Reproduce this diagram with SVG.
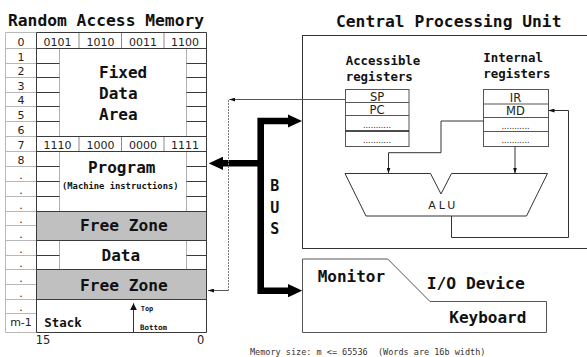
<svg xmlns="http://www.w3.org/2000/svg" width="587" height="357" viewBox="0 0 587 357">
<defs>
<style>
.t{font-family:"DejaVu Sans Mono","Liberation Mono",monospace;font-weight:bold;fill:#111}
.m{font-family:"DejaVu Sans Mono","Liberation Mono",monospace;fill:#333}
.n{font-family:"DejaVu Sans","Liberation Sans",sans-serif;fill:#222}
.c{text-anchor:middle}
.ix{stroke:#b8b8b8;stroke-width:1;fill:none}
.dk{stroke:#3a3a3a;stroke-width:1;fill:none}
.lt{stroke:#b0b0b0;stroke-width:1;fill:none}
.gd{stroke:#8a8a8a;stroke-width:1;fill:none}
.cl{stroke:#333;stroke-width:1;fill:none}
.rg{stroke:#555;stroke-width:1;fill:#fff}
.fz{fill:#c0c0c0;stroke:#3a3a3a;stroke-width:1}
</style>
<marker id="a" viewBox="0 0 6 4" refX="6" refY="2" markerWidth="6" markerHeight="4" markerUnits="userSpaceOnUse" orient="auto"><path d="M0,0 L6,2 L0,4z" fill="#111"/></marker>
<marker id="a2" viewBox="0 0 7 7" refX="7" refY="3.5" markerWidth="7" markerHeight="7" markerUnits="userSpaceOnUse" orient="auto"><path d="M0,0 L7,3.5 L0,7z" fill="#111"/></marker>
<marker id="b" viewBox="0 0 14.4 13.4" refX="0.5" refY="6.7" markerWidth="14.4" markerHeight="13.4" markerUnits="userSpaceOnUse" orient="auto-start-reverse"><path d="M0,0 L14.4,6.7 L0,13.4z" fill="#000"/></marker>
</defs>
<rect width="587" height="357" fill="#fff"/>

<g id="memory">
<text class="t" x="8" y="26" font-size="16.3">Random Access Memory</text>
<!-- fills -->
<rect class="fz" x="36.5" y="211.5" width="170" height="29"/>
<rect class="fz" x="36.5" y="269.5" width="170" height="30"/>
<!-- index column -->
<path class="ix" d="M5.5,32.5V332.5M5.5,32.5H36.5M5.5,48.5H36.5M5.5,63.5H36.5M5.5,77.5H36.5M5.5,92.5H36.5M5.5,106.5H36.5M5.5,121.5H36.5M5.5,136.5H36.5M5.5,151.5H36.5M5.5,166.5H36.5M5.5,181.5H36.5M5.5,196.5H36.5M5.5,211.5H36.5M5.5,225.5H36.5M5.5,240.5H36.5M5.5,255.5H36.5M5.5,269.5H36.5M5.5,284.5H36.5M5.5,299.5H36.5M5.5,313.5H36.5M5.5,332.5H36.5"/>
<g class="n c" font-size="11">
<text x="21" y="46">0</text><text x="21" y="61">1</text><text x="21" y="75">2</text><text x="21" y="90">3</text><text x="21" y="104">4</text><text x="21" y="119">5</text><text x="21" y="134">6</text><text x="21" y="149">7</text><text x="21" y="164">8</text>
<text x="21" y="179">.</text><text x="21" y="194">.</text><text x="21" y="209">.</text><text x="21" y="223">.</text><text x="21" y="238">.</text><text x="21" y="253">.</text><text x="21" y="267">.</text><text x="21" y="282">.</text><text x="21" y="297">.</text><text x="21" y="311">.</text>
<text x="21" y="326">m-1</text>
</g>
<!-- row 0 and row 7 cells -->
<path class="gd" d="M79,32.5V48.5M121.5,32.5V48.5M164,32.5V48.5M79,136.5V151.5M121.5,136.5V151.5M164,136.5V151.5"/>
<g class="n c" font-size="11">
<text x="57.5" y="46">0101</text><text x="100.5" y="46">1010</text><text x="143" y="46">0011</text><text x="185" y="46">1100</text>
<text x="57.5" y="149">1110</text><text x="100.5" y="149">1000</text><text x="143" y="149">0000</text><text x="185" y="149">1111</text>
</g>
<!-- small side cells -->
<path class="lt" d="M59.5,48.5V136.5M186.5,48.5V136.5M59.5,151.5V211.5M186.5,151.5V211.5M59.5,240.5V269.5M186.5,240.5V269.5"/>
<path class="dk" d="M36.5,63.5H59.5M36.5,77.5H59.5M36.5,92.5H59.5M36.5,106.5H59.5M36.5,121.5H59.5M186.5,63.5H206.5M186.5,77.5H206.5M186.5,92.5H206.5M186.5,106.5H206.5M186.5,121.5H206.5M36.5,166.5H59.5M36.5,181.5H59.5M36.5,196.5H59.5M186.5,166.5H206.5M186.5,181.5H206.5M186.5,196.5H206.5M36.5,255.5H59.5M186.5,255.5H206.5"/>
<!-- section borders -->
<path class="dk" d="M36.5,32.5H206.5V332.5H36.5ZM36.5,48.5H206.5M36.5,136.5H206.5M36.5,151.5H206.5M36.5,211.5H206.5M36.5,240.5H206.5M36.5,269.5H206.5M36.5,299.5H206.5"/>
<g class="t">
<text x="99" y="77.5" font-size="16">Fixed</text>
<text x="99" y="99" font-size="16">Data</text>
<text x="99" y="120" font-size="16">Area</text>
<text class="c" x="121.7" y="173.3" font-size="16">Program</text>
<text class="c" x="120.3" y="189.3" font-size="8.8">(Machine instructions)</text>
<text class="c" x="123.8" y="231" font-size="16.2">Free Zone</text>
<text class="c" x="120.8" y="261" font-size="16">Data</text>
<text class="c" x="123.8" y="291" font-size="16.2">Free Zone</text>
<text x="44.3" y="326.5" font-size="12.4">Stack</text>
<text x="140.7" y="310.7" font-size="7">Top</text>
<text x="140" y="330" font-size="7.5">Bottom</text>
</g>
<text class="n c" x="43" y="344" font-size="11.5">15</text>
<text class="n c" x="200.7" y="344" font-size="11.5">0</text>
</g>

<g id="cpu">
<rect x="302.5" y="35.5" width="300" height="213" fill="none" stroke="#333" stroke-width="1"/>
<text class="t" x="336" y="26.5" font-size="16.3">Central Processing Unit</text>
<g class="t" font-size="12.4">
<text x="345.7" y="64.5">Accessible</text>
<text x="345.7" y="80.5">registers</text>
<text x="483.3" y="62">Internal</text>
<text x="483.3" y="78">registers</text>
</g>
<g id="accessible-registers">
<rect class="rg" x="345.5" y="89.5" width="63.5" height="57"/>
<path class="rg" d="M345.5,102.5H409M345.5,115.5H409"/>
<path d="M345.5,131H409" stroke="#111" stroke-width="1.5"/>
<g class="n c" font-size="11.5">
<text x="377" y="100.7">SP</text><text x="377" y="114">PC</text>
</g>
<g class="n c" font-size="8">
<text x="377" y="128">...........</text><text x="377" y="143">...........</text>
</g>
</g>
<g id="internal-registers">
<rect class="rg" x="483.5" y="89.5" width="65" height="57"/>
<path class="rg" d="M483.5,104H548.5M483.5,117.5H548.5M483.5,131.5H548.5"/>
<g class="n c" font-size="11.5">
<text x="515.5" y="101.5">IR</text><text x="515.5" y="115">MD</text>
</g>
<g class="n c" font-size="8">
<text x="515.5" y="128.5">...........</text><text x="515.5" y="143">...........</text>
</g>
</g>
<g id="alu">
<polygon points="345,173.5 430.5,173.5 441,194 451.5,173.5 547.5,173.5 526.5,216 366,216" fill="#fff" stroke="#333" stroke-width="1"/>
<text class="n c" x="443.3" y="209" font-size="11" letter-spacing="3">ALU</text>
</g>
</g>

<g id="io-device">
<path d="M302.5,259H387.7L430,301.5H546.5V332.5H302.5Z" fill="#fff" stroke="#555" stroke-width="1"/>
<g class="t" font-size="16">
<text x="317.7" y="281.7">Monitor</text>
<text x="426.7" y="289" font-size="16.3">I/O Device</text>
<text x="449.3" y="322.7">Keyboard</text>
</g>
</g>

<g id="bus">
<g class="t c" font-size="15">
<text x="274.7" y="190.5">B</text><text x="274.7" y="212.5">U</text><text x="274.7" y="234">S</text>
</g>
</g>

<g id="connectors">
<path d="M288.3,121H260.7V290.7H288.3" fill="none" stroke="#000" stroke-width="6.6" marker-start="url(#b)" marker-end="url(#b)"/>
<path d="M260.7,163.3H222.7" fill="none" stroke="#000" stroke-width="6.6" marker-end="url(#b)"/>
<path d="M345.5,99.5H229.3" stroke="#555" stroke-width="1" fill="none" marker-end="url(#a)"/>
<path d="M228.5,100V290.5" stroke="#777" stroke-width="1" stroke-dasharray="2,1" fill="none"/>
<path d="M228.5,290.5H208" stroke="#555" stroke-width="1" fill="none" marker-end="url(#a)"/>
<path class="cl" d="M483.5,121H441V152.7H388.5V173.5" marker-end="url(#a)"/>
<path class="cl" d="M515,146.5V173.5" marker-end="url(#a)"/>
<path class="cl" d="M451.5,216V237.5H568.5V110.5H548.5" marker-end="url(#a)"/>
<path class="cl" d="M133.5,332.5V303.3" marker-end="url(#a2)"/>
</g>

<text class="m" x="250" y="354.5" font-size="8.5" xml:space="preserve">Memory size: m &lt;= 65536  (Words are 16b width)</text>
</svg>
